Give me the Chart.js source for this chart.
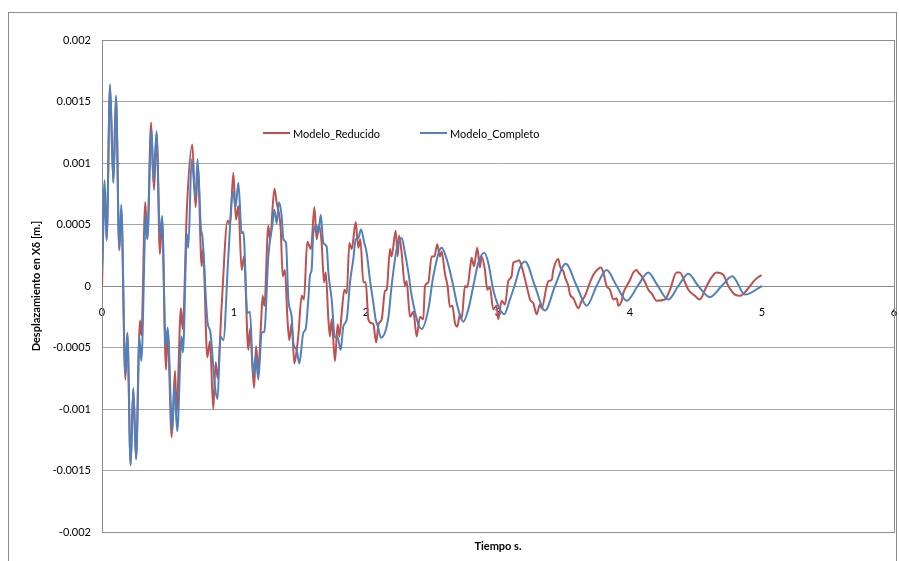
<!DOCTYPE html>
<html>
<head>
<meta charset="utf-8">
<script src="https://cdn.jsdelivr.net/npm/chart.js@4.4.1/dist/chart.umd.min.js"></script>
<style>
  html, body { margin: 0; padding: 0; background: #fff; }
</style>
</head>
<body>
<canvas id="chart" width="899" height="561"></canvas>
<script>
// time (s) and displacement (x 1e-3 m)
const redT = [0,0.02,0.035,0.061,0.086,0.106,0.131,0.146,0.177,0.192,
  0.217,0.237,0.258,0.288,0.298,0.328,0.343,0.372,0.394,0.414,
  0.439,0.455,0.485,0.497,0.528,0.553,0.565,0.598,0.611,0.644,
  0.684,0.709,0.727,0.755,0.765,0.798,0.818,0.843,0.861,0.876,
  0.906,0.952,0.970,0.995,1.015,1.033,1.058,1.076,1.109,1.121,
  1.152,1.167,1.184,1.205,1.217,1.230,1.260,1.273,1.306,1.323,
  1.354,1.369,1.386,1.404,1.419,1.437,1.457,1.475,1.487,1.513,
  1.530,1.555,1.583,1.609,1.626,1.644,1.664,1.682,1.695,1.715,
  1.727,1.740,1.765,1.785,1.798,1.816,1.836,1.854,1.874,1.892,
  1.922,1.942,1.957,1.980,1.998,2.018,2.038,2.056,2.077,2.095,
  2.119,2.144,2.157,2.182,2.194,2.225,2.240,2.250,2.270,2.295,
  2.308,2.333,2.359,2.384,2.409,2.434,2.447,2.472,2.497,2.518,
  2.540,2.560,2.573,2.598,2.618,2.636,2.654,2.674,2.692,2.712,
  2.724,2.750,2.767,2.787,2.800,2.818,2.843,2.863,2.876,2.901,
  2.919,2.939,2.964,2.989,3.002,3.027,3.053,3.078,3.103,3.116,
  3.141,3.160,3.179,3.217,3.243,3.268,3.293,3.318,3.331,3.369,
  3.382,3.407,3.419,3.457,3.470,3.495,3.508,3.533,3.546,3.571,
  3.609,3.634,3.659,3.697,3.722,3.760,3.780,3.798,3.823,3.848,
  3.874,3.899,3.912,3.937,3.949,3.975,4.000,4.025,4.050,4.063,
  4.088,4.114,4.139,4.164,4.202,4.265,4.303,4.353,4.378,4.416,
  4.442,4.492,4.530,4.568,4.606,4.656,4.707,4.745,4.795,4.833,
  4.909,4.947,4.997];
const redV = [0,0.78,0.38,1.62,0.84,1.53,0.29,0.62,-0.76,-0.38,
  -1.45,-0.83,-1.40,-0.28,-0.40,0.68,0.38,1.33,0.78,1.24,
  0.26,0.55,-0.68,-0.36,-1.23,-0.69,-1.03,-0.18,-0.35,0.65,
  1.15,0.64,0.96,0.16,0.30,-0.58,-0.45,-1.00,-0.62,-0.75,
  -0.17,0.53,0.50,0.92,0.54,0.65,0.13,0.24,-0.52,-0.35,
  -0.83,-0.49,-0.68,-0.30,-0.08,-0.16,0.49,0.38,0.79,0.68,
  0.46,0.08,0.13,-0.25,-0.44,-0.30,-0.63,-0.52,-0.41,-0.08,
  -0.11,0.36,0.30,0.64,0.38,0.49,0.35,0.03,0.11,-0.27,
  -0.41,-0.27,-0.61,-0.31,-0.41,-0.22,-0.03,-0.06,0.35,0.30,
  0.52,0.31,0.38,0.03,0.03,-0.27,-0.30,-0.31,-0.46,-0.31,
  -0.27,-0.04,-0.03,0.30,0.24,0.45,0.24,0.41,0.27,0.00,
  0.04,-0.25,-0.21,-0.41,-0.25,-0.27,0.00,0.03,0.24,0.24,
  0.34,0.24,0.28,0.10,0.00,-0.17,-0.16,-0.30,-0.33,-0.23,
  -0.27,0.00,-0.01,0.13,0.23,0.16,0.31,0.15,0.24,0.13,
  -0.03,-0.01,-0.19,-0.16,-0.27,-0.12,-0.15,0.04,0.08,0.19,
  0.20,0.21,0.16,0.00,-0.11,-0.14,-0.23,-0.15,-0.18,0.00,
  0.04,0.05,0.13,0.22,0.16,0.12,0.07,0.00,-0.07,-0.10,
  -0.18,-0.12,-0.08,0.03,0.09,0.14,0.15,0.11,0.00,-0.03,
  -0.11,-0.10,-0.16,-0.12,-0.06,0.00,0.05,0.11,0.13,0.11,
  0.08,0.03,-0.03,-0.06,-0.12,-0.11,-0.03,0.11,0.11,0.03,
  -0.03,-0.08,-0.11,-0.03,0.05,0.11,0.09,0.00,-0.07,-0.08,
  0.00,0.05,0.09];

const blueT = [0,0.02,0.035,0.061,0.086,0.106,0.131,0.146,0.177,0.192,
  0.217,0.237,0.258,0.283,0.298,0.333,0.343,0.374,0.389,0.414,
  0.439,0.455,0.482,0.497,0.533,0.548,0.570,0.603,0.613,0.644,
  0.654,0.679,0.709,0.724,0.750,0.760,0.800,0.820,0.856,0.876,
  0.896,0.919,0.957,0.992,1.012,1.033,1.058,1.071,1.101,1.121,
  1.146,1.164,1.184,1.210,1.230,1.260,1.290,1.306,1.323,1.341,
  1.361,1.374,1.394,1.412,1.437,1.449,1.475,1.495,1.525,1.543,
  1.563,1.576,1.588,1.601,1.626,1.639,1.657,1.677,1.702,1.715,
  1.740,1.765,1.783,1.808,1.828,1.854,1.879,1.904,1.922,1.942,
  1.962,1.987,2.005,2.030,2.056,2.073,2.090,2.113,2.169,2.194,
  2.232,2.270,2.295,2.321,2.346,2.422,2.472,2.510,2.573,2.605,
  2.636,2.661,2.699,2.737,2.775,2.813,2.851,2.896,2.926,2.964,
  3.002,3.047,3.090,3.128,3.166,3.205,3.280,3.356,3.432,3.513,
  3.596,3.672,3.747,3.823,3.899,3.975,4.058,4.139,4.200,4.290,
  4.366,4.442,4.517,4.606,4.694,4.775,4.871,5.000];
const blueV = [0.12,0.86,0.37,1.64,0.84,1.55,0.30,0.66,-0.73,-0.39,
  -1.46,-0.84,-1.41,-0.42,-0.61,0.58,0.38,1.27,0.85,1.26,
  0.39,0.57,-0.50,-0.34,-1.18,-0.81,-1.18,-0.41,-0.54,0.42,
  0.31,1.03,0.72,1.03,0.46,0.41,-0.30,-0.37,-0.82,-0.92,
  -0.41,-0.44,0.24,0.77,0.64,0.84,0.43,0.44,-0.22,-0.21,
  -0.73,-0.57,-0.76,-0.38,-0.37,0.24,0.49,0.62,0.51,0.68,
  0.57,0.38,0.35,-0.11,-0.25,-0.46,-0.52,-0.63,-0.38,-0.35,
  -0.11,0.09,0.13,0.43,0.49,0.43,0.58,0.35,0.32,0.11,
  -0.11,-0.42,-0.41,-0.52,-0.33,-0.27,0.03,0.22,0.38,0.39,
  0.46,0.35,0.27,0.05,-0.14,-0.27,-0.33,-0.42,-0.26,0.00,
  0.30,0.39,0.27,0.11,-0.08,-0.35,-0.19,0.08,0.31,0.24,
  0.12,0.00,-0.19,-0.29,-0.19,0.00,0.19,0.27,0.19,-0.03,
  -0.16,-0.23,-0.11,0.01,0.15,0.20,0.00,-0.20,0.00,0.18,
  0.00,-0.16,0.00,0.13,0.00,-0.12,0.00,0.11,0.02,-0.11,
  0.00,0.10,0.00,-0.09,0.00,0.08,-0.07,0.00];

const seriesNames = ["Modelo_Reducido", "Modelo_Completo"];
const xTicks = [0, 1, 2, 3, 4, 5, 6];
const yTicks = [-0.002, -0.0015, -0.001, -0.0005, 0, 0.0005, 0.001, 0.0015, 0.002];

const RED = "#C0504D", BLUE = "#4F81BD";
const FONT = "Lato, 'Open Sans', sans-serif";

function points(ts, vs) {
  return ts.map((t, i) => ({ x: t, y: vs[i] / 1000 }));
}

/* white page, outer frame, plot border */
const framePlugin = {
  id: "frame",
  beforeDraw(chart) {
    const c = chart.ctx;
    c.save();
    c.fillStyle = "#fff";
    c.fillRect(0, 0, chart.width, chart.height);
    c.strokeStyle = "#8c8c8c";
    c.lineWidth = 1;
    c.strokeRect(8.5, 12.5, 888, 600);
    c.restore();
  },
  beforeDatasetsDraw(chart) {
    const a = chart.chartArea, c = chart.ctx;
    c.save();
    c.strokeStyle = "#8c8c8c";
    c.lineWidth = 1;
    c.strokeRect(Math.round(a.left) + 0.5, Math.round(a.top) + 0.5,
      Math.round(a.right - a.left), Math.round(a.bottom - a.top));
    c.restore();
  }
};

/* legend inside the plot, as in the picture */
const legendPlugin = {
  id: "inlineLegend",
  afterDatasetsDraw(chart) {
    const c = chart.ctx;
    c.save();
    c.font = "11px " + FONT;
    c.textBaseline = "middle";
    let x = 263;
    const y = 133;
    chart.data.datasets.forEach(ds => {
      c.strokeStyle = ds.borderColor;
      c.lineWidth = 2;
      c.beginPath();
      c.moveTo(x, y);
      c.lineTo(x + 27, y);
      c.stroke();
      c.fillStyle = "#000";
      c.fillText(ds.label, x + 30, y + 1);
      x += 30 + c.measureText(ds.label).width + 40;
    });
    c.restore();
  }
};

new Chart(document.getElementById("chart"), {
  type: "line",
  data: {
    datasets: [{
      label: seriesNames[0],
      data: points(redT, redV),
      borderColor: RED,
      borderWidth: 2,
      pointRadius: 0,
      cubicInterpolationMode: "monotone",
      fill: false,
      order: 1
    }, {
      label: seriesNames[1],
      data: points(blueT, blueV),
      borderColor: BLUE,
      borderWidth: 2,
      pointRadius: 0,
      cubicInterpolationMode: "monotone",
      fill: false,
      order: 0
    }]
  },
  options: {
    responsive: false,
    animation: false,
    layout: { padding: { left: 0, right: 5, top: 40, bottom: 0 } },
    scales: {
      x: {
        type: "linear",
        position: { y: 0 },
        min: 0, max: 6,
        afterBuildTicks: s => { s.ticks = xTicks.map(v => ({ value: v })); },
        ticks: { padding: 12, color: "#000", font: { family: FONT, size: 11 } },
        grid: { display: false },
        border: { color: "#8c8c8c" },
        afterFit: s => { s.paddingLeft = 0; s.paddingRight = 0; }
      },
      x2: {
        type: "linear",
        axis: "x",
        position: "bottom",
        min: 0, max: 6,
        ticks: { display: false },
        grid: { display: false, drawTicks: false },
        border: { display: false },
        title: {
          display: true, text: "Tiempo s.", color: "#000",
          font: { family: FONT, size: 11, weight: "bold" },
          padding: { top: 0, bottom: 8 }
        },
        afterFit: s => { s.height = 29; s.paddingLeft = 0; s.paddingRight = 0; }
      },
      y: {
        min: -0.002, max: 0.002,
        afterBuildTicks: s => { s.ticks = yTicks.map(v => ({ value: v })); },
        ticks: {
          padding: 11, color: "#000",
          font: { family: FONT, size: 11 },
          callback: v => String(parseFloat(v.toFixed(4)))
        },
        grid: { color: "#a6a6a6", drawTicks: false },
        border: { color: "#8c8c8c" },
        title: {
          display: true, text: "Desplazamiento en Xδ [m.]", color: "#000",
          font: { family: FONT, size: 11, weight: "bold" },
          padding: { top: 30, bottom: 0 }
        },
        afterFit: s => { s.width = 102; }
      }
    },
    plugins: {
      legend: { display: false },
      tooltip: { enabled: false }
    }
  },
  plugins: [framePlugin, legendPlugin]
});
</script>
</body>
</html>
